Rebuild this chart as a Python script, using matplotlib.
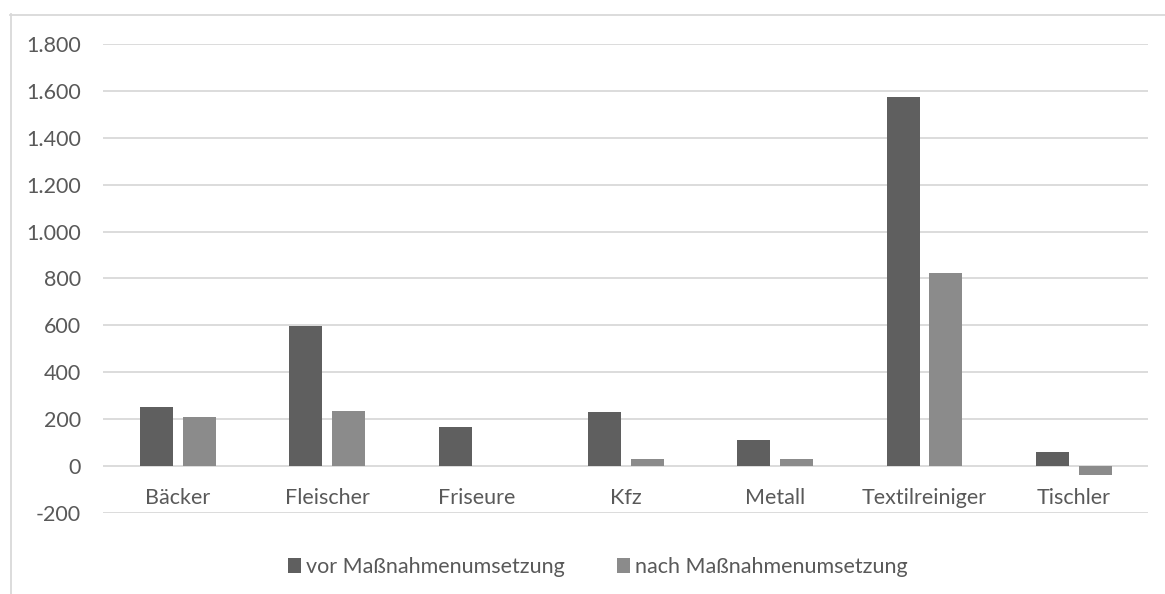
import matplotlib.pyplot as plt
from matplotlib.lines import Line2D
from matplotlib.ticker import FuncFormatter
import numpy as np

categories = ['Bäcker', 'Fleischer', 'Friseure', 'Kfz', 'Metall', 'Textilreiniger', 'Tischler']
vor_values = [250, 597, 165, 228, 112, 1577, 58]
nach_values = [207, 234, 0, 30, 29, 822, -37]
series_labels = ['vor Maßnahmenumsetzung', 'nach Maßnahmenumsetzung']

text_color = '#595959'
grid_color = '#d9d9d9'

plt.rcParams['font.family'] = ['Lato', 'DejaVu Sans']

fig = plt.figure(figsize=(11.65, 5.94), dpi=100)
ax = fig.add_axes([0.0886, 0.1369, 0.8971, 0.7885])

x = np.arange(len(categories))
width = 0.221
offset = 0.143
ax.bar(x - offset, vor_values, width, color='#5f5f5f', label=series_labels[0], zorder=3)
ax.bar(x + offset, nach_values, width, color='#8b8b8b', label=series_labels[1], zorder=3)

ax.set_xlim(-0.5, len(categories) - 0.5)
ax.set_ylim(-200, 1800)
ax.set_yticks(range(-200, 1801, 200))
# German thousands separator
ax.yaxis.set_major_formatter(FuncFormatter(lambda v, p: f'{int(v):,}'.replace(',', '.')))
ax.grid(axis='y', color=grid_color, linewidth=1.3, zorder=0)

for side in ['top', 'right', 'left', 'bottom']:
    ax.spines[side].set_visible(False)
# category labels sit below the zero line
ax.spines['bottom'].set_position(('data', 0))

ax.set_xticks(x)
ax.set_xticklabels(categories)
ax.tick_params(axis='x', length=0, pad=16, labelsize=15.5, labelcolor=text_color)
ax.tick_params(axis='y', length=0, pad=16, labelsize=15.5, labelcolor=text_color)

fig.legend(loc='center', bbox_to_anchor=(598 / 1165, 1 - 566.7 / 594), ncol=2, frameon=False,
           fontsize=15.5, labelcolor=text_color, handlelength=0.6, handleheight=0.7,
           handletextpad=0.25, columnspacing=2.4)

# chart area border (only top and left visible in the crop)
fig.add_artist(Line2D([10.5 / 1165, 10.5 / 1165], [0, 1 - 14 / 594], color=grid_color, linewidth=1.3))
fig.add_artist(Line2D([10 / 1165, 1], [1 - 15 / 594, 1 - 15 / 594], color=grid_color, linewidth=1.3))

fig.savefig('out.png', dpi=100)
